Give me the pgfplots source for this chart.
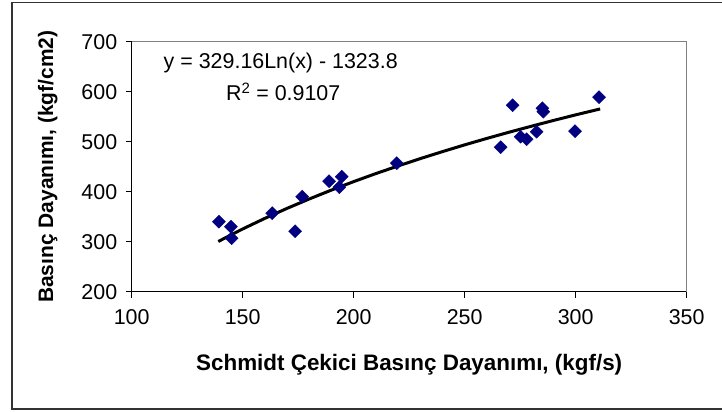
\documentclass[border=0pt]{standalone}
\usepackage{fontspec}
\setmainfont{Liberation Sans}
\usepackage{pgfplots}
\pgfplotsset{compat=1.18}
\definecolor{navy}{RGB}{0,0,128}
\definecolor{plotgray}{RGB}{128,128,128}
\begin{document}
\begin{tikzpicture}
\begin{axis}[
  at={(0,0)}, anchor=south west,
  scale only axis, width=555bp, height=250bp,
  xmin=100, xmax=350, ymin=200, ymax=700,
  xtick={100,150,...,350}, ytick={200,300,...,700},
  axis x line*=bottom, axis y line*=left,
  axis line style={black, line width=1bp, -},
  tick align=outside, major tick length=6bp,
  tick style={black, line width=1bp},
  /pgf/number format/assume math mode=true,
  ticklabel style={font=\fontsize{21.5}{25}\selectfont},
  xticklabel style={yshift=-8bp},
  yticklabel style={xshift=-5bp},
  xlabel={Schmidt Çekici Basınç Dayanımı, (kgf/s)},
  ylabel={Basınç Dayanımı, (kgf/cm2)},
  xlabel style={font=\bfseries\fontsize{22.5}{26}\selectfont, at={(axis description cs:0.5,-0.292)}, anchor=center},
  ylabel style={font=\bfseries\fontsize{21}{25}\selectfont, at={(axis description cs:-0.1514,0.5)}, anchor=center, rotate=0},
  clip=false,
]
\draw[plotgray, line width=1.5bp] (rel axis cs:0,1) -- (rel axis cs:1,1) -- (rel axis cs:1,0);
\addplot[black, line width=3bp, line join=round] coordinates {
 (139,300.4) (145,314.3) (150,325.5) (160,346.7) (170,366.7) (180,385.5)
 (190,403.3) (200,420.2) (210,436.3) (220,451.5) (230,466.2) (240,480.2)
 (250,493.7) (260,506.6) (270,519.0) (280,530.9) (290,542.5) (300,553.7)
 (311,565.5)
};
\addplot[only marks, mark=square*, mark size=4.6bp,
  mark options={rotate=45, fill=navy, draw=navy}] coordinates {
 (139.3,340) (144.7,330) (145.0,307) (163.3,357) (173.6,321) (176.8,390)
 (188.9,421) (194.6,430) (193.5,409) (219.4,457) (266.2,489) (271.6,573)
 (275.2,510) (277.9,505) (282.4,520) (285.0,567) (285.4,560) (299.7,521)
 (310.5,589)
};
\node[font=\fontsize{21.5}{25}\selectfont, anchor=center] at (axis description cs:0.2685,0.916) {y = 329.16Ln(x) - 1323.8};
\node[font=\fontsize{21.5}{25}\selectfont, anchor=center] at (axis description cs:0.273,0.800) {R\textsuperscript{2} = 0.9107};
\end{axis}
\draw[black!80, line width=1.5bp] (591bp,289bp) -- (-119.7bp,289bp) -- (-119.7bp,-117.5bp) -- (591bp,-117.5bp);
\pgfresetboundingbox
\useasboundingbox (-131.7bp,-120.3bp) rectangle (590.3bp,291.7bp);
\end{tikzpicture}
\end{document}
